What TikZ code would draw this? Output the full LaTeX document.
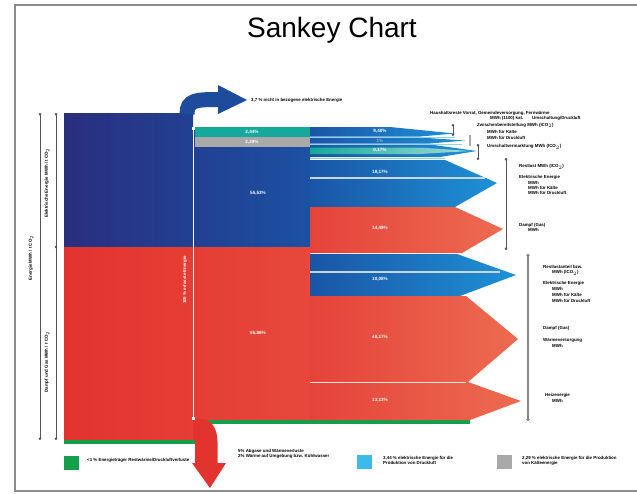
\documentclass[tikz,border=0pt]{standalone}
\usepackage{fontspec}
\setmainfont{Liberation Sans}
\usetikzlibrary{arrows.meta}

\definecolor{framegrey}{HTML}{8C8C8C}
\definecolor{navy}{HTML}{2A2E7F}
\definecolor{blockblue}{HTML}{1B51A3}
\definecolor{arrowblue}{HTML}{1E4C9D}
\definecolor{flowblueL}{HTML}{1A55A6}
\definecolor{flowblueR}{HTML}{1E92D6}
\definecolor{redblock}{HTML}{E3332E}
\definecolor{redblockR}{HTML}{E7483B}
\definecolor{flowredL}{HTML}{E5433A}
\definecolor{flowredR}{HTML}{EC6B50}
\definecolor{tealband}{HTML}{14A99A}
\definecolor{greyband}{HTML}{A9A9A9}
\definecolor{lightblue}{HTML}{3DB9EA}
\definecolor{stripe}{HTML}{C9D6DE}
\definecolor{greenline}{HTML}{12A04A}
\definecolor{linegrey}{HTML}{555555}

\tikzset{
  note/.style={font=\fontsize{4.4}{5}\selectfont\bfseries, anchor=west, inner sep=0pt},
  pct/.style={font=\fontsize{4.6}{5}\selectfont\bfseries, text=white, inner sep=0pt},
  sidelabel/.style={font=\fontsize{4.4}{5}\selectfont\bfseries, rotate=90, inner sep=0pt},
  dimline/.style={draw=linegrey, line width=0.6pt, {Circle[length=2.6pt]}-{Circle[length=2.6pt]}},
  bluearrow/.style={left color=flowblueL, right color=flowblueR},
  redarrow/.style={left color=flowredL, right color=flowredR},
  legendbox/.style={minimum width=15pt, minimum height=14pt, inner sep=0pt},
}

\begin{document}
\begin{tikzpicture}[x=1pt,y=-1pt]
\useasboundingbox (0,0) rectangle (637,493);

% frame, open at the right
\draw[framegrey, line width=1.6pt] (637,5) -- (15,5) -- (15,491) -- (637,491);

\node (title) at (332,30) {\fontsize{28}{30}\selectfont Sankey Chart};

% ---- input blocks ----
\shade[left color=navy, right color=blockblue]
  (64,113) -- (193,113) -- (193,127) -- (310,127) -- (310,247) -- (64,247) -- cycle;
\shade[left color=redblock, right color=redblockR]
  (64,247) -- (310,247) -- (310,420) -- (193,420) -- (193,440) -- (64,440) -- cycle;
\fill[greenline] (64,440) rectangle (196,443.5);
\fill[greenline] (193,420) rectangle (470,423.5);

\fill[tealband] (195,127) rectangle (310,137);
\fill[greyband] (195,137) rectangle (310,147);

% curved loss arrow at the top
\draw[arrowblue, line width=15pt] (187,114) .. controls (187,100) and (196,99.5) .. (219,99.5);
\fill[arrowblue] (218,85) -- (247,100) -- (218,114) -- cycle;

% curved loss arrow at the bottom
\fill[redblock] (193,419) -- (201,419) .. controls (211,419) and (217.5,428) .. (217.5,442)
  -- (217.5,464) -- (195,464) -- (195,440) -- (193,440) -- cycle;
\fill[redblock] (192,463) -- (226,463) -- (210,488) -- cycle;

% 100 % marker line
\draw[white, line width=0.9pt] (193,129) -- (193,418);
\fill[white] (191.5,127) rectangle (194.5,130);
\fill[white] (191.5,416.5) rectangle (194.5,419.5);
\node[sidelabel, text=white] (total) at (185,280) {100 \% erfasste Energie};

% ---- output flows ----
\shade[bluearrow] (310,127) -- (390,127) -- (455,133.5) -- (420,136.5) -- (310,136.5) -- cycle;
\shade[bluearrow] (310,137.5) -- (420,137.5) -- (465,140.5) -- (430,143.5) -- (310,143.5) -- cycle;
\shade[bluearrow] (310,144.5) -- (430,144.5) -- (477,151) -- (440,157) -- (310,157) -- cycle;
\shade[left color=tealband, right color=tealband!40!white]
  (310,147.5) -- (420,147.5) -- (470,151) -- (420,154) -- (310,154) -- cycle;
\draw[lightblue!60!white, line width=0.7pt] (310,137) -- (455,137);
\draw[lightblue!60!white, line width=0.7pt] (310,144) -- (462,144);
\draw[lightblue!60!white, line width=0.8pt] (310,158.5) -- (445,158.5);

\shade[bluearrow] (310,160) -- (445,160) -- (497,183) -- (455,207) -- (310,207) -- cycle;
\draw[stripe, line width=1.6pt] (310,178) -- (485,178);

\shade[redarrow] (310,207) -- (455,207) -- (503,229) -- (462,253) -- (310,253) -- cycle;
\shade[bluearrow] (310,254) -- (457,254) -- (516,275) -- (460,296) -- (310,296) -- cycle;
\draw[stripe, line width=1.6pt] (310,272) -- (500,272);
\shade[redarrow] (310,296) -- (466,296) -- (518,339) -- (468,382) -- (310,382) -- cycle;
\shade[redarrow] (310,382) -- (468,382) -- (521,401) -- (470,420) -- (310,420) -- cycle;
\draw[white!80!flowredR, line width=0.6pt] (310,382) -- (466,382);

% ---- percentages ----
\node[pct] (p1) at (252,132) {2,44\%};
\node[pct] (p2) at (252,142) {2,29\%};
\node[pct] (p3) at (258,193) {55,53\%};
\node[pct] (p4) at (258,333) {66,86\%};
\node[pct] (p5) at (380,131.5) {9,40\%};
\node[pct, text=greyband] (p6) at (380,140.5) {1\%};
\node[pct] (p7) at (380,150.5) {0,17\%};
\node[pct] (p8) at (380,172) {18,17\%};
\node[pct] (p9) at (380,228) {14,49\%};
\node[pct] (p10) at (380,279) {10,08\%};
\node[pct] (p11) at (380,337) {40,17\%};
\node[pct] (p12) at (380,400) {13,13\%};

\node[note] (loss) at (251,100) {3,7 \% nicht in bezogene elektrische Energie};

% ---- left dimension lines ----
\coordinate (o1) at (40,113);
\coordinate (o2) at (40,440);
\coordinate (i1) at (56,113);
\coordinate (i2) at (56,440);
\coordinate (im) at (56,247);
\draw[dimline] (o1) -- (o2);
\draw[dimline] (i1) -- (i2);
\fill[linegrey] (im) circle (1.3pt);
\node[sidelabel] (lab1) at (31,258) {Energie MWh / t CO$_2$};
\node[sidelabel] (lab2) at (47,183) {Elektrische Energie MWh / t CO$_2$};
\node[sidelabel] (lab3) at (47,362) {Dampf und Gas MWh / t CO$_2$};

% ---- right annotation lines ----
\coordinate (r1) at (506,158);
\coordinate (r2) at (506,250);
\coordinate (s1) at (528,254);
\coordinate (s2) at (528,421);
\draw[dimline] (r1) -- (r2);
\draw[draw=greyband!80!black, line width=1.6pt, {Circle[length=3pt]}-{Circle[length=3pt]}] (s1) -- (s2);
\coordinate (m1) at (453,124);
\coordinate (m2) at (453,136);
\draw[dimline] (m1) -- (m2);
\draw[greyband, line width=2pt] (470,135) -- (470,146);
\coordinate (n1) at (478,144);
\coordinate (n2) at (478,160);
\draw[dimline] (n1) -- (n2);

% ---- right annotations ----
\node[note] (a1) at (430,113) {Haushaltsreste Vorrat, Gemeindeversorgung, Fernwärme};
\node[note] (a2) at (490,118.5) {MWh (1100) kat.\hspace{9pt}Umschaltung/Druckluft};
\node[note] (a3) at (477,125.5) {Zwischenbereitstellung MWh (ICO$_2$)};
\node[note] (a4) at (487,132) {MWh für Kälte};
\node[note] (a5) at (487,138) {MWh für Druckluft};
\node[note] (a6) at (487,147) {Umschaltvermarktung MWh (ICO$_2$)};

\node[note] (b1) at (519,167) {Restlast MWh (ICO$_2$)};
\node[note] (b2) at (519,177.5) {Elektrische Energie};
\node[note] (b3) at (528,183) {MWh};
\node[note] (b4) at (528,188) {MWh für Kälte};
\node[note] (b5) at (528,193) {MWh für Druckluft};
\node[note] (b6) at (519,225) {Dampf (Gas)};
\node[note] (b7) at (528,230) {MWh};

\node[note] (c1) at (543,267) {Restlastanteil bzw.};
\node[note] (c2) at (552,273) {MWh (ICO$_2$)};
\node[note] (c3) at (543,283) {Elektrische Energie};
\node[note] (c4) at (552,289) {MWh};
\node[note] (c5) at (552,295) {MWh für Kälte};
\node[note] (c6) at (552,301) {MWh für Druckluft};
\node[note] (c7) at (543,328) {Dampf (Gas)};
\node[note] (c8) at (543,340) {Wärmeversorgung};
\node[note] (c9) at (552,345.5) {MWh};
\node[note] (c10) at (545,395) {Heizenergie};
\node[note] (c11) at (552,401) {MWh};

% ---- legend ----
\node[legendbox, fill=greenline] (g1) at (71,462.5) {};
\node[note, anchor=west] (g1t) at (87,460) {<1 \% Energieträger Restwärme/Druckluftverluste};
\node[note, align=left, anchor=west] (g2t) at (238,453.5)
  {5\% Abgase und Wärmeverluste\\2\% Wärme auf Umgebung bzw. Kühlwasser};
\node[legendbox, fill=lightblue] (g3) at (364.5,461.5) {};
\node[note, align=left, anchor=west] (g3t) at (383,460.5)
  {3,44 \% elektrische Energie für die\\Produktion von Druckluft};
\node[legendbox, fill=greyband] (g4) at (504.5,461.5) {};
\node[note, align=left, anchor=west] (g4t) at (522,460.5)
  {2,29 \% elektrische Energie für die Produktion\\von Kälteenergie};
\end{tikzpicture}
\end{document}
